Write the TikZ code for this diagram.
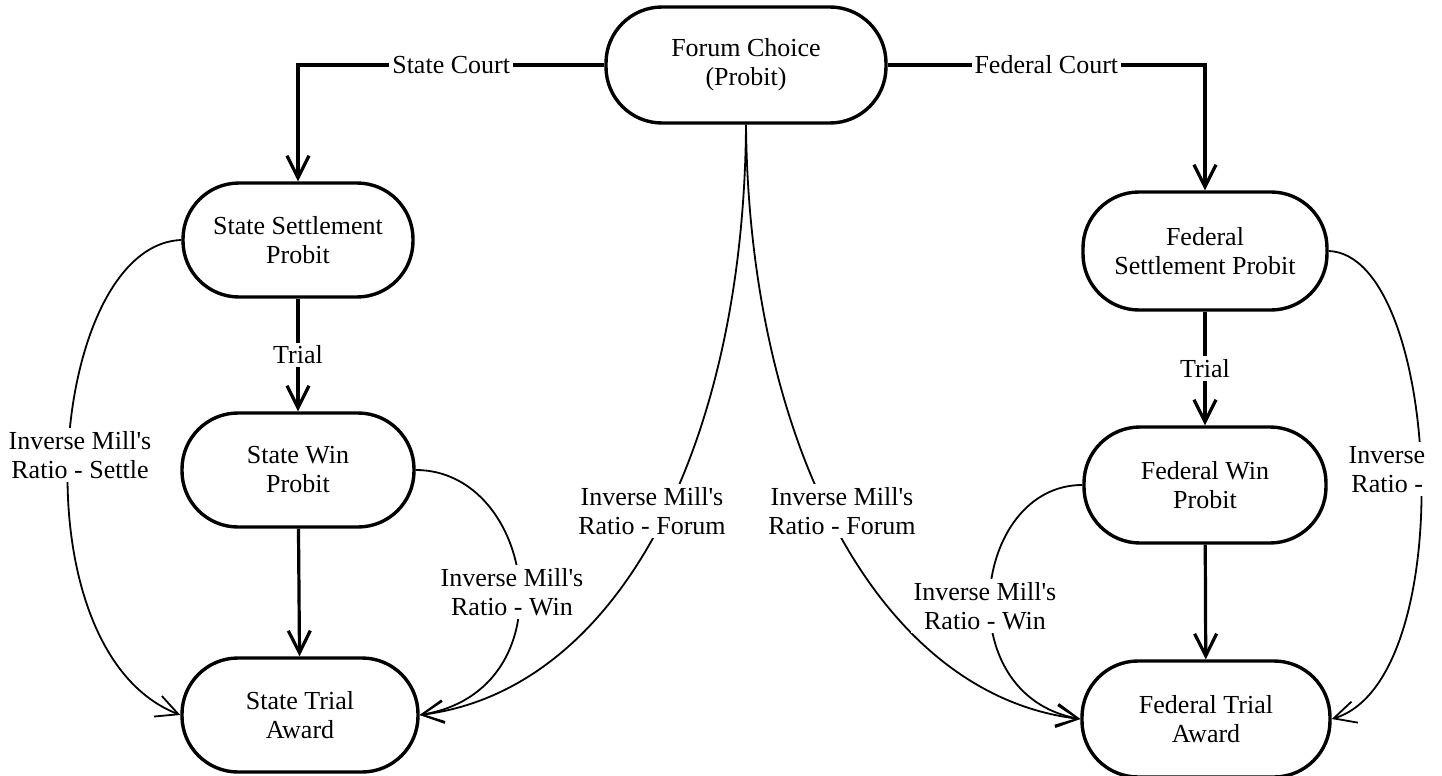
\documentclass[tikz,border=0pt]{standalone}
\usepackage{fontspec}
\setmainfont{Liberation Serif}
\usetikzlibrary{arrows.meta}

\begin{document}
\begin{tikzpicture}[x=0.5pt,y=-0.5pt,>={Straight Barb[length=11pt,width=11pt]},font=\fontsize{13}{14.5}\selectfont]
    \tikzstyle{stage}=[draw=black,line width=1.7pt,fill=white,rounded corners=28pt,align=center,inner sep=2pt]
    \tikzstyle{flow}=[line width=1.6pt]
    \tikzstyle{imr}=[line width=0.9pt]
    \tikzstyle{tag}=[fill=white,inner sep=1.5pt,align=center]
    \useasboundingbox (0,0) rectangle (1442,776);

    \node[stage,minimum width=140pt,minimum height=58pt] (forum) at (746,65) {Forum Choice\\(Probit)};
    \foreach \name/\x/\y/\w/\h/\txt in {sset/298/240/115/57/{State Settlement\\Probit}, swin/298/470/116/57/{State Win\\Probit}, strial/300/715/118/57/{State Trial\\Award}, fset/1205/251/122/59/{Federal\\Settlement Probit}, fwin/1205/485/121/58/{Federal Win\\Probit}, ftrial/1206/719/124/58/{Federal Trial\\Award}}
            \node[stage,minimum width=\w pt,minimum height=\h pt] (\name) at (\x,\y) {\txt};

        \draw[flow,->] (forum.west) -| node[tag,pos=0.25] (stcourt) {State Court} (sset.north);
        \draw[flow,->] (forum.east) -| node[tag,pos=0.25] (fdcourt) {Federal Court} (fset.north);
        \draw[flow,->] (sset) -- node[tag] (sttrial) {Trial} (swin);
        \draw[flow,->] (fset) -- node[tag] (fdtrial) {Trial} (fwin);

        \foreach \from/\to in {swin/strial, fwin/ftrial}
            \draw[flow,->] (\from) -- (\to);

        \draw[imr,->] (sset.west) .. controls +(-133,5) and +(-167,-65) .. (strial.west);
        \draw[imr,->] (swin.east) .. controls +(119,0) and +(151,-25) .. (strial.east);
        \draw[imr,->] (forum.south) .. controls +(-2,317) and +(201,-25) .. (strial.east);
        \draw[imr,->] (forum.south) .. controls +(3,317) and +(-203,-24) .. (ftrial.west);
        \draw[imr,->] (fwin.west) .. controls +(-110,0) and +(-133,-24) .. (ftrial.west);
        \draw[imr,->] (fset.east) .. controls +(112,4) and +(130,-39) .. (ftrial.east);

        \node[tag] (stsettle) at (80,455) {Inverse Mill\textquotesingle s\\Ratio - Settle};
        \node[tag] (stwin) at (512,592) {Inverse Mill\textquotesingle s\\Ratio - Win};
        \node[tag] (stforum) at (652,511) {Inverse Mill\textquotesingle s\\Ratio - Forum};
        \node[tag] (fdforum) at (842,511) {Inverse Mill\textquotesingle s\\Ratio - Forum};
        \node[tag] (fdwin) at (985,606) {Inverse Mill\textquotesingle s\\Ratio - Win};
        \begin{scope}
            \clip (1330,420) rectangle (1425,520);
            \node[tag] (fdsettle) at (1420,469) {Inverse Mill\textquotesingle s\\Ratio - Settle};
        \end{scope}
\end{tikzpicture}
\end{document}
